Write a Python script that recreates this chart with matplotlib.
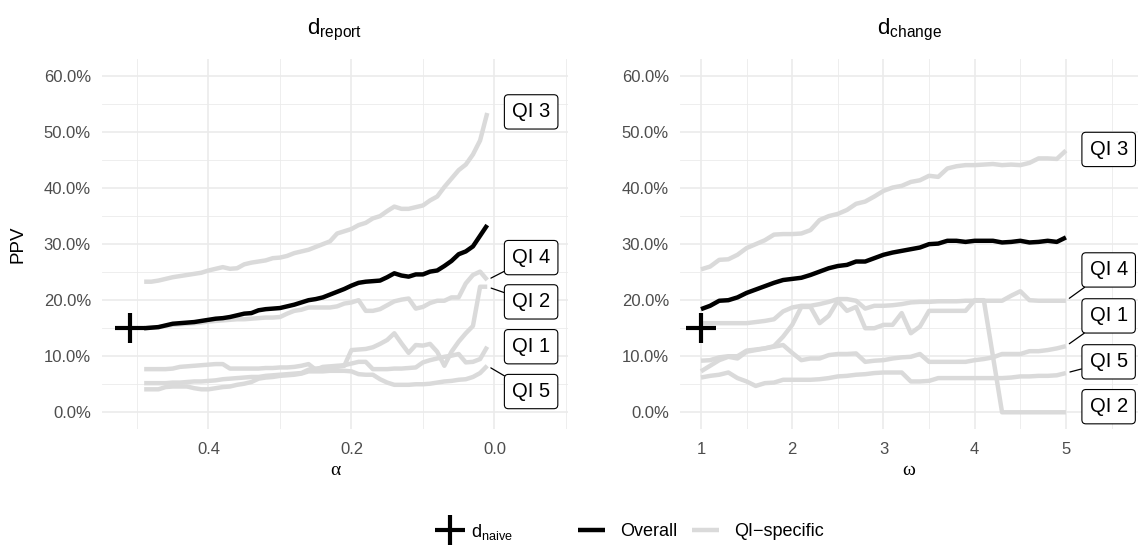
import matplotlib
matplotlib.use("Agg")
import matplotlib.pyplot as plt
from matplotlib.lines import Line2D
from matplotlib.ticker import FuncFormatter, MultipleLocator

plt.rcParams["font.family"] = ["Liberation Sans", "DejaVu Sans"]
plt.rcParams["mathtext.fontset"] = "custom"
plt.rcParams["mathtext.rm"] = "Liberation Sans"
plt.rcParams["mathtext.it"] = "Liberation Sans:italic"

# --- data (PPV in %) -------------------------------------------------------
alpha = [0.49, 0.48, 0.47, 0.46, 0.45, 0.44, 0.43, 0.42, 0.41, 0.40,
         0.39, 0.38, 0.37, 0.36, 0.35, 0.34, 0.33, 0.32, 0.31, 0.30,
         0.29, 0.28, 0.27, 0.26, 0.25, 0.24, 0.23, 0.22, 0.21, 0.20,
         0.19, 0.18, 0.17, 0.16, 0.15, 0.14, 0.13, 0.12, 0.11, 0.10,
         0.09, 0.08, 0.07, 0.06, 0.05, 0.04, 0.03, 0.02, 0.01]

report_overall = [15.0, 15.1, 15.2, 15.5, 15.8, 15.9, 16.0, 16.1, 16.3, 16.5,
                  16.7, 16.8, 17.0, 17.3, 17.6, 17.7, 18.2, 18.4, 18.5, 18.6,
                  18.9, 19.2, 19.6, 20.0, 20.2, 20.5, 21.0, 21.5, 22.0, 22.6,
                  23.1, 23.3, 23.4, 23.5, 24.1, 24.8, 24.4, 24.2, 24.6, 24.6,
                  25.1, 25.3, 26.1, 27.0, 28.2, 28.7, 29.6, 31.5, 33.4]
report_qi1 = [7.7, 7.7, 7.7, 7.7, 7.8, 8.1, 8.2, 8.3, 8.4, 8.5,
              8.6, 8.6, 7.8, 7.8, 7.8, 7.8, 7.8, 7.9, 7.9, 8.0,
              8.0, 8.1, 8.3, 8.6, 7.6, 8.1, 8.2, 8.3, 8.4, 8.7,
              9.0, 9.0, 7.7, 7.7, 7.7, 7.8, 7.8, 7.9, 8.0, 8.9,
              9.3, 9.6, 9.9, 10.1, 10.4, 8.9, 9.0, 9.5, 11.7]
report_qi2 = [5.2, 5.2, 5.2, 5.2, 5.3, 5.3, 5.4, 5.5, 5.5, 5.6,
              5.7, 5.9, 6.0, 6.1, 6.2, 6.3, 6.3, 6.5, 6.6, 6.7,
              6.8, 6.9, 7.0, 7.6, 7.8, 7.9, 8.0, 8.1, 8.3, 11.1,
              11.2, 11.3, 11.6, 12.2, 12.9, 14.1, 12.3, 10.6, 12.0, 11.9,
              12.2, 10.8, 8.3, 10.8, 12.6, 14.1, 15.4, 22.4, 22.4]
report_qi3 = [23.3, 23.3, 23.5, 23.8, 24.1, 24.3, 24.5, 24.7, 24.9, 25.3,
              25.6, 25.9, 25.6, 25.7, 26.4, 26.7, 26.9, 27.1, 27.5, 27.6,
              27.9, 28.4, 28.7, 29.0, 29.5, 30.0, 30.5, 31.9, 32.3, 32.7,
              33.4, 33.8, 34.6, 35.0, 35.9, 36.7, 36.3, 36.3, 36.6, 36.9,
              37.8, 38.5, 40.2, 41.7, 43.2, 44.2, 46.0, 48.5, 53.4]
report_qi4 = [15.0, 15.1, 15.2, 15.4, 15.6, 15.7, 15.8, 15.9, 16.0, 16.2,
              16.3, 16.4, 16.5, 16.6, 16.6, 16.7, 16.8, 16.9, 16.9, 17.0,
              17.6, 18.1, 18.3, 18.7, 18.7, 18.7, 18.7, 18.9, 19.4, 19.6,
              20.0, 18.1, 18.1, 18.4, 19.1, 19.8, 20.1, 20.3, 18.5, 18.8,
              19.5, 19.9, 19.9, 20.5, 20.5, 23.0, 24.5, 25.1, 23.6]
report_qi5 = [4.1, 4.1, 4.1, 4.5, 4.6, 4.6, 4.6, 4.3, 4.1, 4.1,
              4.3, 4.5, 4.6, 4.9, 5.1, 5.4, 6.0, 6.2, 6.3, 6.5,
              6.6, 6.7, 6.9, 7.3, 7.3, 7.3, 7.4, 7.4, 7.4, 7.3,
              6.8, 6.7, 6.7, 5.9, 5.3, 4.9, 4.9, 4.9, 5.0, 5.0,
              5.1, 5.3, 5.5, 5.6, 5.8, 5.9, 6.3, 7.0, 8.3]

omega = [1.0, 1.1, 1.2, 1.3, 1.4, 1.5, 1.6, 1.7, 1.8, 1.9,
         2.0, 2.1, 2.2, 2.3, 2.4, 2.5, 2.6, 2.7, 2.8, 2.9,
         3.0, 3.1, 3.2, 3.3, 3.4, 3.5, 3.6, 3.7, 3.8, 3.9,
         4.0, 4.1, 4.2, 4.3, 4.4, 4.5, 4.6, 4.7, 4.8, 4.9, 5.0]

change_overall = [18.4, 19.0, 19.9, 20.0, 20.5, 21.3, 21.9, 22.5, 23.1, 23.6,
                  23.8, 24.0, 24.5, 25.1, 25.7, 26.1, 26.3, 26.9, 26.9, 27.5,
                  28.1, 28.5, 28.8, 29.1, 29.4, 30.0, 30.1, 30.6, 30.6, 30.4,
                  30.6, 30.6, 30.6, 30.3, 30.4, 30.6, 30.3, 30.4, 30.6, 30.4, 31.2]
change_qi1 = [9.2, 9.3, 9.8, 10.0, 10.0, 11.0, 11.2, 11.4, 11.7, 12.0,
              10.6, 9.3, 9.6, 9.6, 10.2, 10.4, 10.4, 10.5, 9.0, 9.2,
              9.3, 9.6, 9.8, 9.9, 10.4, 9.0, 9.0, 9.0, 9.0, 9.0,
              9.3, 9.5, 9.8, 10.4, 10.4, 10.4, 10.9, 10.9, 11.1, 11.4, 11.8]
change_qi2 = [7.3, 8.3, 9.3, 9.9, 9.6, 10.8, 11.1, 11.4, 11.8, 13.5,
              15.6, 18.8, 18.8, 15.9, 17.2, 19.9, 18.1, 18.8, 15.0, 15.0,
              15.6, 15.6, 17.7, 14.1, 15.3, 18.1, 18.1, 18.1, 18.1, 18.1,
              20.0, 20.0, 10.0, 0.0, 0.0, 0.0, 0.0, 0.0, 0.0, 0.0, 0.0]
change_qi3 = [25.5, 26.0, 27.2, 27.3, 28.1, 29.3, 30.0, 30.7, 31.7, 31.8,
              31.8, 31.9, 32.5, 34.3, 35.0, 35.4, 36.1, 37.2, 37.6, 38.5,
              39.5, 40.1, 40.4, 41.1, 41.4, 42.2, 42.0, 43.5, 43.9, 44.1,
              44.1, 44.2, 44.3, 44.1, 44.2, 44.1, 44.5, 45.3, 45.3, 45.2, 46.7]
change_qi4 = [15.9, 15.9, 15.9, 15.9, 15.9, 15.9, 16.1, 16.3, 16.6, 18.0,
              18.7, 19.0, 19.0, 19.3, 19.7, 20.2, 20.2, 19.9, 18.5, 19.0,
              19.0, 19.1, 19.3, 19.6, 19.7, 19.7, 19.8, 19.8, 19.8, 19.9,
              19.9, 19.9, 19.9, 19.9, 20.8, 21.6, 20.0, 19.9, 19.9, 19.9, 19.9]
change_qi5 = [6.2, 6.5, 6.7, 7.1, 6.1, 5.5, 4.7, 5.2, 5.3, 5.8,
              5.8, 5.8, 5.8, 5.9, 6.1, 6.4, 6.5, 6.7, 6.8, 7.0,
              7.1, 7.1, 7.1, 5.5, 5.5, 5.6, 6.1, 6.1, 6.1, 6.1,
              6.1, 6.1, 6.1, 6.1, 6.2, 6.4, 6.4, 6.5, 6.5, 6.6, 7.0]

qi_names = ["QI 1", "QI 2", "QI 3", "QI 4", "QI 5"]
# repelled label heights (PPV %) as placed in the original
report_label_y = [11.7, 19.7, 53.6, 27.6, 3.7]
change_label_y = [17.2, 1.0, 46.9, 25.4, 9.0]

d_naive = 15.0
naive_alpha = 0.51
naive_omega = 1.0

GRAY = "#DADADA"
GRID = "#EBEBEB"
TXT = "#4D4D4D"
LW = 3.2

fig = plt.figure(figsize=(11.38, 5.45), dpi=100)
W, H = 1138, 545


def px_axes(x0, x1, y_top, y_bot):
    return fig.add_axes([x0 / W, 1 - y_bot / H, (x1 - x0) / W, (y_bot - y_top) / H])


ax_l = px_axes(102, 568, 59.2, 429.1)
ax_r = px_axes(680, 1138, 59.2, 429.1)

panels = [
    (ax_l, alpha, report_overall, [report_qi1, report_qi2, report_qi3, report_qi4, report_qi5],
     report_label_y, naive_alpha, (0.549, -0.103), 0.2, 0.1, -0.0247, r"$\mathrm{d}_{\mathrm{report}}$", "α"),
    (ax_r, omega, change_overall, [change_qi1, change_qi2, change_qi3, change_qi4, change_qi5],
     change_label_y, naive_omega, (0.77, 5.79), 1, 0.5, 5.259, r"$\mathrm{d}_{\mathrm{change}}$", "ω"),
]

for ax, xs, overall, qis, lab_y, x_naive, xlim, maj, mnr, lab_x, title, xlab in panels:
    for ys in qis:
        ax.plot(xs, ys, color=GRAY, lw=LW, solid_capstyle="butt", solid_joinstyle="round", zorder=2)
    ax.plot(xs, overall, color="black", lw=LW, solid_capstyle="butt", solid_joinstyle="round", zorder=3)
    ax.plot([x_naive], [d_naive], marker="+", color="black", markersize=22, mew=3.0,
            linestyle="None", zorder=4)

    for name, ys, ly in zip(qi_names, qis, lab_y):
        arrow = None
        if abs(ly - ys[-1]) > 1.5:
            arrow = dict(arrowstyle="-", color="black", lw=0.9, shrinkA=0, shrinkB=3)
        ax.annotate(name, xy=(xs[-1], ys[-1]), xytext=(lab_x, ly), textcoords="data",
                    ha="left", va="center", fontsize=14.5, color="black", zorder=6,
                    annotation_clip=False, arrowprops=arrow,
                    bbox=dict(boxstyle="round,pad=0.38,rounding_size=0.2", fc="white",
                              ec="black", lw=0.8))

    ax.set_xlim(*xlim)
    ax.set_ylim(-3, 63)
    ax.xaxis.set_major_locator(MultipleLocator(maj))
    ax.xaxis.set_minor_locator(MultipleLocator(mnr))
    ax.yaxis.set_major_locator(MultipleLocator(10))
    ax.yaxis.set_minor_locator(MultipleLocator(5))
    ax.yaxis.set_major_formatter(FuncFormatter(lambda v, _: f"{v:.1f}%"))
    ax.grid(which="major", color=GRID, lw=1.2)
    ax.grid(which="minor", color=GRID, lw=0.6)
    ax.set_axisbelow(True)
    for s in ax.spines.values():
        s.set_visible(False)
    ax.tick_params(which="both", length=0, colors=TXT, labelsize=12)
    ax.tick_params(axis="x", pad=9)
    ax.tick_params(axis="y", pad=8)
    ax.text(0.5, 1.0673, title, transform=ax.transAxes, ha="center", va="baseline", fontsize=16)
    ax.text(0.5, -0.111, xlab, transform=ax.transAxes, ha="center", va="center",
            fontsize=14, family=["Liberation Serif", "DejaVu Serif"])

fig.text(18.5 / W, 1 - 244 / H, "PPV", rotation=90, ha="center", va="center", fontsize=13.5)

# legend
naive_handle = Line2D([], [], marker="+", color="black", markersize=22, mew=3.0, linestyle="None")
fig.legend([naive_handle], [r"$\mathrm{d}_{\mathrm{naive}}$"], loc="center left",
           bbox_to_anchor=(431.6 / W, 13.3 / H), frameon=False, borderpad=0, borderaxespad=0,
           handlelength=2.0, handletextpad=0.2, fontsize=13)
line_handles = [Line2D([], [], color="black", lw=LW, solid_capstyle="butt"),
                Line2D([], [], color=GRAY, lw=LW, solid_capstyle="butt")]
fig.legend(line_handles, ["Overall", "QI\u2212specific"], loc="center left",
           bbox_to_anchor=(578 / W, 13.3 / H), frameon=False, borderpad=0, borderaxespad=0,
           ncol=2, handlelength=1.5, handletextpad=0.83, columnspacing=0.83, fontsize=13)

fig.savefig("out.png", dpi=100)
